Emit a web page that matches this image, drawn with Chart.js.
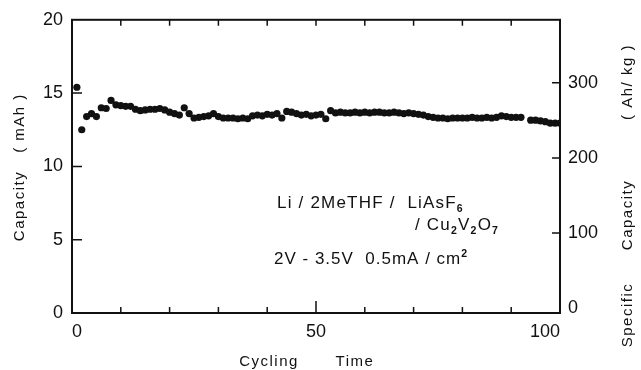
<!DOCTYPE html>
<html lang="en">
<head>
    <meta charset="UTF-8">
    <title>Capacity vs cycling time</title>
    <script src="https://cdn.jsdelivr.net/npm/chart.js"></script>
    <style>
body {
    margin: 0;
    padding: 0;
    background-color: white;
}

.chart-container {
    width: 641px;
    height: 370px;
}
    </style>
</head>
<body>
    <div class="chart-container">
        <canvas id="capacityChart"></canvas>
    </div>

    <script>
// Data (cycle number -> capacity in mAh)
const cycles = Array.from({ length: 100 }, (_, i) => i + 1);
const capacity = [
    15.4, 12.5, 13.4, 13.6, 13.4, 14.0, 13.95, 14.5, 14.2, 14.15,
    14.1, 14.1, 13.9, 13.8, 13.85, 13.9, 13.9, 13.95, 13.85, 13.7,
    13.6, 13.5, 14.0, 13.6, 13.3, 13.35, 13.4, 13.45, 13.6, 13.4,
    13.3, 13.3, 13.3, 13.25, 13.3, 13.25, 13.45, 13.5, 13.45, 13.55,
    13.5, 13.6, 13.3, 13.75, 13.7, 13.6, 13.5, 13.55, 13.45, 13.5,
    13.55, 13.25, 13.8, 13.65, 13.7, 13.65, 13.65, 13.7, 13.65, 13.7,
    13.65, 13.7, 13.7, 13.65, 13.65, 13.7, 13.65, 13.6, 13.65, 13.6,
    13.55, 13.5, 13.4, 13.35, 13.3, 13.3, 13.25, 13.3, 13.3, 13.3,
    13.3, 13.35, 13.3, 13.3, 13.35, 13.3, 13.35, 13.45, 13.4, 13.35,
    13.35, 13.35, null, 13.15, 13.15, 13.1, 13.05, 12.95, 12.95, 12.95
];

const xTickLabels = [0, 50, 100];
const leftTicks = [0, 5, 10, 15, 20];
const rightTicks = [0, 100, 200, 300];

const FONT = "'Liberation Sans', Arial, sans-serif";

// Draws a line of text with subscripts / superscripts
function drawRuns(ctx, x, y, runs, size) {
    runs.forEach(function(run) {
        const text = run[0];
        const kind = run[1] || 'n';
        let dy = 0;
        let fs = size;
        if (kind === 'sub') { fs = size * 0.62; dy = 4; }
        if (kind === 'sup') { fs = size * 0.62; dy = -7; }
        ctx.font = (kind === 'n' ? '' : 'bold ') + fs + 'px ' + FONT;
        ctx.fillText(text, x, y + dy);
        x += ctx.measureText(text).width;
    });
}

const framePlugin = {
    id: 'frame',
    afterDraw(chart) {
        const ctx = chart.ctx;
        const a = chart.chartArea;
        const xs = chart.scales.x;
        const yl = chart.scales.y;
        const yr = chart.scales.y2;

        ctx.save();
        ctx.strokeStyle = '#111';
        ctx.lineWidth = 2;
        ctx.strokeRect(a.left, a.top, a.right - a.left, a.bottom - a.top);

        ctx.lineWidth = 1.5;
        ctx.beginPath();
        // inward ticks on the cycle axis (bottom and top)
        for (let v = 10; v < 100; v += 10) {
            const px = xs.getPixelForValue(v);
            const len = v === 50 ? 12 : 6;
            ctx.moveTo(px, a.bottom);
            ctx.lineTo(px, a.bottom - len);
            ctx.moveTo(px, a.top);
            ctx.lineTo(px, a.top + 6);
        }
        [5, 10, 15].forEach(function(v) {
            const py = yl.getPixelForValue(v);
            ctx.moveTo(a.left, py);
            ctx.lineTo(a.left + 10, py);
        });
        [100, 200, 300].forEach(function(v) {
            const py = yr.getPixelForValue(v);
            ctx.moveTo(a.right, py);
            ctx.lineTo(a.right - 8, py);
        });
        ctx.stroke();

        ctx.fillStyle = '#111';
        ctx.letterSpacing = '1.5px';
        ctx.textBaseline = 'alphabetic';

        // x title
        ctx.font = '15px ' + FONT;
        ctx.textAlign = 'center';
        ctx.fillText('Cycling', 269, 366);
        ctx.fillText('Time', 355, 366);

        // left title
        ctx.save();
        ctx.translate(24, 0);
        ctx.rotate(-Math.PI / 2);
        ctx.fillText('Capacity', -206, 0);
        ctx.fillText('( mAh )', -123, 0);
        ctx.restore();

        // right title
        ctx.save();
        ctx.translate(632, 0);
        ctx.rotate(-Math.PI / 2);
        ctx.fillText('Specific', -315, 0);
        ctx.fillText('Capacity', -215, 0);
        ctx.fillText('( Ah/ kg )', -82, 0);
        ctx.restore();

        // annotation
        ctx.textAlign = 'left';
        ctx.letterSpacing = '1.2px';
        drawRuns(ctx, 277, 208, [['Li / 2MeTHF /  LiAsF'], ['6', 'sub']], 17);
        drawRuns(ctx, 415, 230, [['/ Cu'], ['2', 'sub'], ['V'], ['2', 'sub'], ['O'], ['7', 'sub']], 17);
        ctx.letterSpacing = '1px';
        drawRuns(ctx, 274, 264, [['2V - 3.5V  0.5mA / cm'], ['2', 'sup']], 17);
        ctx.restore();
    }
};

document.addEventListener('DOMContentLoaded', function() {
    const ctx = document.getElementById('capacityChart').getContext('2d');
    const points = cycles.map((c, i) => ({ x: c, y: capacity[i] }));

    new Chart(ctx, {
        type: 'scatter',
        data: {
            datasets: [{
                label: 'Capacity',
                data: points,
                backgroundColor: '#111',
                borderWidth: 0,
                pointRadius: 3.6,
                pointHoverRadius: 3.6
            }]
        },
        options: {
            responsive: true,
            maintainAspectRatio: false,
            animation: false,
            layout: { padding: { top: 15, left: 0, right: 0, bottom: 0 } },
            plugins: {
                legend: { display: false },
                tooltip: { enabled: false }
            },
            scales: {
                x: {
                    type: 'linear',
                    min: 0,
                    max: 100,
                    grid: { display: false, drawTicks: false },
                    border: { display: false },
                    afterBuildTicks: s => { s.ticks = xTickLabels.map(v => ({ value: v })); },
                    afterFit: s => { s.height = 57; },
                    ticks: {
                        padding: 8,
                        align: 'inner',
                        color: '#111',
                        font: { family: FONT, size: 18 },
                        maxRotation: 0
                    }
                },
                y: {
                    position: 'left',
                    min: 0,
                    max: 20,
                    grid: { display: false, drawTicks: false },
                    border: { display: false },
                    afterBuildTicks: s => { s.ticks = leftTicks.map(v => ({ value: v })); },
                    afterFit: s => { s.width = 72; },
                    ticks: {
                        padding: 9,
                        color: '#111',
                        font: { family: FONT, size: 18 }
                    }
                },
                y2: {
                    position: 'right',
                    min: -6.5,
                    max: 384,
                    grid: { display: false, drawTicks: false },
                    border: { display: false },
                    afterBuildTicks: s => { s.ticks = rightTicks.map(v => ({ value: v })); },
                    afterFit: s => { s.width = 81; },
                    ticks: {
                        padding: 8,
                        color: '#111',
                        font: { family: FONT, size: 18 }
                    }
                }
            }
        },
        plugins: [framePlugin]
    });
});
    </script>
</body>
</html>
